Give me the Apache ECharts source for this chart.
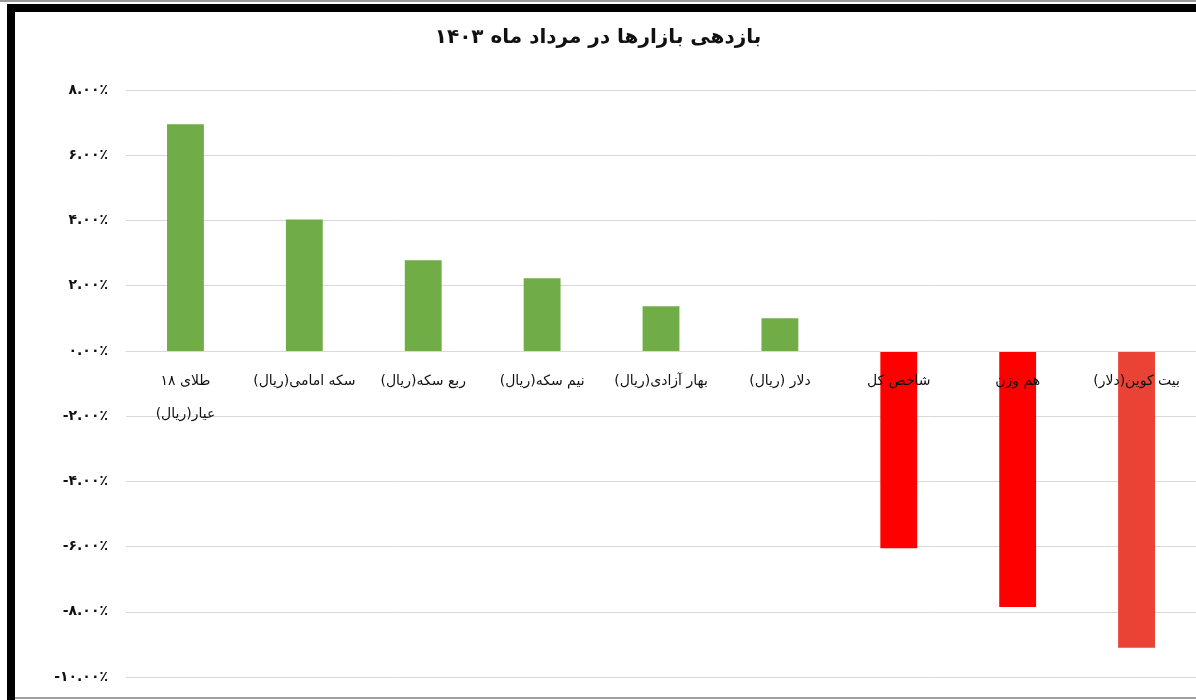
<!DOCTYPE html>
<html>
<head>
<meta charset="utf-8">
<script src="https://cdn.jsdelivr.net/npm/echarts@6/dist/echarts.min.js"></script>
<style>
  html, body { margin: 0; padding: 0; background: #fff; }
  #chart { width: 1196px; height: 700px; }
</style>
</head>
<body>
<div id="chart"></div>
<script>
var titleText = 'بازدهی بازارها در مرداد ماه ۱۴۰۳';
var categories = [
  'طلای ۱۸\nعیار(ریال)',
  'سکه امامی(ریال)',
  'ربع سکه(ریال)',
  'نیم سکه(ریال)',
  'بهار آزادی(ریال)',
  'دلار (ریال)',
  'شاخص کل',
  'هم وزن',
  'بیت کوین(دلار)'
];
var returns = [6.95, 4.03, 2.78, 2.23, 1.37, 1.0, -6.05, -7.85, -9.1];
var persianDigits = ['۰', '۱', '۲', '۳', '۴', '۵', '۶', '۷', '۸', '۹'];
var barColors = ['#70AD47', '#70AD47', '#70AD47', '#70AD47', '#70AD47', '#70AD47', '#FF0000', '#FF0000', '#EA4335'];

var yMin = -10, yMax = 8;
var gridTop = 90, gridBottom = 23, chartH = 700;

function toPersian(v) {
  var s = Math.abs(v).toFixed(2);
  s = s.replace(/[0-9]/g, function (d) { return persianDigits[+d]; });
  return (v < 0 ? '-' : '') + s + '٪';
}

// the category axis sits on the zero line (Excel style); v6 keeps labels at the grid edge with onZero, so shift it
var plotH = chartH - gridTop - gridBottom;
var zeroOffset = -plotH * (0 - yMin) / (yMax - yMin);

var chart = echarts.init(document.getElementById('chart'));
var option = {
  animation: false,
  backgroundColor: '#fff',
  textStyle: { fontFamily: 'DejaVu Sans' },
  title: {
    text: titleText,
    left: 'center',
    top: 23,
    textStyle: { fontFamily: 'DejaVu Sans', fontSize: 20, fontWeight: 'bold', color: '#111' }
  },
  graphic: [
    { type: 'rect', shape: { x: 0, y: 0, width: 1196, height: 2 }, style: { fill: '#9a9a9a' } },
    { type: 'rect', shape: { x: 7, y: 4, width: 1189, height: 8 }, style: { fill: '#000' } },
    { type: 'rect', shape: { x: 7, y: 4, width: 8, height: 696 }, style: { fill: '#000' } },
    { type: 'rect', shape: { x: 15, y: 697, width: 1181, height: 2 }, style: { fill: '#a0a0a0' } }
  ],
  grid: { left: 126, right: 0, top: gridTop, bottom: gridBottom, containLabel: false, outerBoundsMode: 'none' },
  xAxis: {
    type: 'category',
    data: categories,
    position: 'bottom',
    offset: zeroOffset,
    z: 10,
    axisLine: { show: true, onZero: false, lineStyle: { color: '#d9d9d9', width: 1 } },
    axisTick: { show: false },
    axisLabel: {
      interval: 0,
      margin: 14,
      fontSize: 14,
      lineHeight: 33,
      color: '#111',
      fontFamily: 'DejaVu Sans'
    }
  },
  yAxis: {
    type: 'value',
    min: yMin,
    max: yMax,
    interval: 2,
    axisLine: { show: false },
    axisTick: { show: false },
    splitLine: { lineStyle: { color: '#d9d9d9', width: 1 } },
    axisLabel: {
      margin: 18,
      fontSize: 14,
      fontWeight: 'bold',
      color: '#111',
      fontFamily: 'DejaVu Sans',
      formatter: function (v) { return toPersian(v); }
    }
  },
  series: [
    {
      type: 'bar',
      data: returns,
      barWidth: '31%',
      itemStyle: {
        color: function (p) { return barColors[p.dataIndex]; }
      }
    }
  ]
};
chart.setOption(option);
</script>
</body>
</html>
